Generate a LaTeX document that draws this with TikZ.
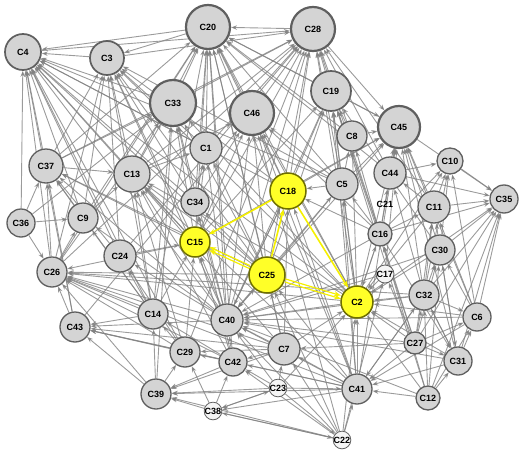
\documentclass[tikz,border=0pt]{standalone}
\usepackage{fontspec}
\setmainfont{Liberation Sans}
\usetikzlibrary{arrows.meta,backgrounds}
\definecolor{ndfill}{RGB}{212,212,212}
\definecolor{ndline}{RGB}{95,95,95}
\definecolor{yfill}{RGB}{255,255,40}
\definecolor{yline}{RGB}{110,110,0}
\definecolor{edgecol}{RGB}{130,130,130}
\definecolor{yedgecol}{RGB}{245,240,0}
\tikzset{
  nd/.style={circle, draw=ndline, fill=ndfill, inner sep=0pt, line width=1.3pt,
    font=\fontsize{9}{9}\selectfont\bfseries, text=black},
  bignd/.style={nd, line width=2.2pt},
  midnd/.style={nd, line width=1.7pt},
  smallnd/.style={nd, fill=white!92!gray, line width=0.8pt},
  ynd/.style={nd, fill=yfill, draw=yline, line width=1.5pt},
  txtnd/.style={inner sep=0pt, font=\fontsize{9}{9}\selectfont\bfseries, text=black},
  edge/.style={draw=edgecol, draw opacity=0.8, line width=0.9pt,
    -{Stealth[length=6pt,width=4.5pt]}},
  yedge/.style={draw=yedgecol, line width=1.6pt, -{Stealth[length=7pt,width=5pt]}}
}
\begin{document}
\begin{tikzpicture}[x=1pt,y=-1pt]
\useasboundingbox (0,0) rectangle (520,450);
% nodes
\node[bignd, minimum size=44pt] (C20) at (208,27) {C20};
\node[bignd, minimum size=44pt] (C28) at (313,29) {C28};
\node[midnd, minimum size=36pt] (C4) at (23,52) {C4};
\node[midnd, minimum size=34pt] (C3) at (107,58) {C3};
\node[bignd, minimum size=46pt] (C33) at (173,103) {C33};
\node[bignd, minimum size=44pt] (C46) at (252,113) {C46};
\node[midnd, minimum size=40pt] (C19) at (331,91) {C19};
\node[bignd, minimum size=42pt] (C45) at (399,127) {C45};
\node[nd, minimum size=30pt] (C8) at (352,136) {C8};
\node[nd, minimum size=32pt] (C1) at (206,148) {C1};
\node[nd, minimum size=26pt] (C10) at (450,161) {C10};
\node[nd, minimum size=34pt] (C37) at (46,166) {C37};
\node[nd, minimum size=36pt] (C13) at (132,174) {C13};
\node[nd, minimum size=32pt] (C44) at (390,173) {C44};
\node[nd, minimum size=32pt] (C5) at (342,184) {C5};
\node[ynd, minimum size=36pt] (C18) at (288,191) {C18};
\node[nd, minimum size=28pt] (C35) at (504,199) {C35};
\node[txtnd] (C21) at (385,204) {C21};
\node[nd, minimum size=28pt] (C34) at (195,202) {C34};
\node[nd, minimum size=32pt] (C11) at (434,207) {C11};
\node[nd, minimum size=30pt] (C9) at (83,218) {C9};
\node[nd, minimum size=28pt] (C36) at (21,223) {C36};
\node[nd, minimum size=24pt] (C16) at (380,234) {C16};
\node[ynd, minimum size=30pt] (C15) at (195,242) {C15};
\node[nd, minimum size=30pt] (C30) at (440,250) {C30};
\node[nd, minimum size=32pt] (C24) at (120,256) {C24};
\node[nd, minimum size=30pt] (C26) at (52,272) {C26};
\node[ynd, minimum size=36pt] (C25) at (267,275) {C25};
\node[smallnd, minimum size=18pt] (C17) at (385,274) {C17};
\node[nd, minimum size=30pt] (C32) at (424,295) {C32};
\node[ynd, minimum size=32pt] (C2) at (357,302) {C2};
\node[nd, minimum size=30pt] (C14) at (153,314) {C14};
\node[nd, minimum size=28pt] (C6) at (477,317) {C6};
\node[nd, minimum size=32pt] (C40) at (227,320) {C40};
\node[nd, minimum size=30pt] (C43) at (75,327) {C43};
\node[nd, minimum size=22pt] (C27) at (415,343) {C27};
\node[nd, minimum size=32pt] (C7) at (284,349) {C7};
\node[nd, minimum size=30pt] (C29) at (185,352) {C29};
\node[nd, minimum size=28pt] (C42) at (233,362) {C42};
\node[nd, minimum size=28pt] (C31) at (458,361) {C31};
\node[smallnd, minimum size=17pt] (C23) at (278,388) {C23};
\node[nd, minimum size=30pt] (C41) at (357,389) {C41};
\node[nd, minimum size=30pt] (C39) at (156,394) {C39};
\node[nd, minimum size=24pt] (C12) at (428,398) {C12};
\node[smallnd, minimum size=16pt] (C38) at (213,411) {C38};
\node[smallnd, minimum size=17pt] (C22) at (342,440) {C22};
% edges
\begin{pgfonlayer}{background}
\foreach \s in {C37,C36,C26,C9,C13,C24,C14,C1,C34,C15,C33,C20,C3,C18,C25,C40,C43,C5,C2,C29}
  \draw[edge] (\s) -- (C4);
\foreach \s in {C20,C13,C37,C9,C1,C34,C15,C18,C25,C26,C24,C40,C14,C5,C2}
  \draw[edge] (\s) -- (C3);
\foreach \s in {C28,C33,C46,C1,C19,C13,C15,C18,C25,C34,C5,C8,C2,C40,C45,C44,C37,C26,C9,C14,C42,C7,C41}
  \draw[edge] (\s) -- (C20);
\foreach \s in {C19,C46,C33,C18,C5,C8,C15,C25,C2,C1,C13,C40,C44,C16,C11,C3,C37,C26,C24,C29,C4}
  \draw[edge] (\s) -- (C28);
\foreach \s in {C13,C15,C25,C40,C37,C26,C34,C2,C14,C36,C39}
  \draw[edge] (\s) -- (C33);
\foreach \s in {C18,C25,C2,C15,C40,C5,C41,C16,C34,C13,C22,C43}
  \draw[edge] (\s) -- (C46);
\foreach \s in {C28,C19,C18,C25,C2,C5,C8,C44,C11,C16,C32,C41,C30,C15,C31,C6,C17}
  \draw[edge] (\s) -- (C45);
\foreach \s in {C18,C25,C5,C8,C2,C15,C40,C16,C41,C12,C27,C30}
  \draw[edge] (\s) -- (C19);
\foreach \s in {C36,C26,C9,C43,C24,C14,C15,C40,C25}
  \draw[edge] (\s) -- (C37);
\foreach \s in {C36,C43,C39,C29,C14,C40,C42,C25,C15,C2,C7,C41,C32}
  \draw[edge] (\s) -- (C26);
\foreach \s in {C14,C29,C40,C25,C15,C2,C42,C7,C37,C9,C41}
  \draw[edge] (\s) -- (C13);
\foreach \s in {C25,C2,C18,C41,C42,C7,C23,C22,C27,C32,C16,C17,C6,C31,C12,C30,C5}
  \draw[edge] (\s) -- (C40);
\foreach \s in {C41,C27,C32,C31,C6,C12,C30,C16,C17,C7,C22,C23,C11}
  \draw[edge] (\s) -- (C2);
\foreach \s in {C22,C27,C12,C31,C6,C32,C23}
  \draw[edge] (\s) -- (C41);
\foreach \s in {C10,C11,C30,C6,C32,C31,C27,C12,C45,C16,C44,C2}
  \draw[edge] (\s) -- (C35);
\foreach \s in {C11,C30,C44,C16,C32,C2,C6}
  \draw[edge] (\s) -- (C10);
\foreach \s in {C38,C23,C22,C42,C41,C7}
  \draw[edge] (\s) -- (C39);
\foreach \s in {C39,C29,C14,C42,C40,C7,C41}
  \draw[edge] (\s) -- (C43);
\foreach \s in {C23,C22,C41}
  \draw[edge] (\s) -- (C38);
\foreach \s in {C38,C23,C41,C22,C7}
  \draw[edge] (\s) -- (C42);
\foreach \s in {C42,C39,C38,C7}
  \draw[edge] (\s) -- (C29);
\foreach \s in {C31,C12,C27,C32}
  \draw[edge] (\s) -- (C6);
\foreach \s in {C32,C27,C12,C30,C16}
  \draw[edge] (\s) -- (C31);
\foreach \s in {C27,C12,C31,C41}
  \draw[edge] (\s) -- (C32);
\foreach \s in {C27,C32,C31,C6,C12}
  \draw[edge] (\s) -- (C30);
\foreach \s in {C30,C16,C32,C27,C6}
  \draw[edge] (\s) -- (C11);
\foreach \s in {C16,C11,C32}
  \draw[edge] (\s) -- (C44);
\foreach \s in {C5,C16,C2}
  \draw[edge] (\s) -- (C8);
\foreach \s in {C16,C25,C2,C41}
  \draw[edge] (\s) -- (C5);
\foreach \s in {C34,C15,C25,C40,C13}
  \draw[edge] (\s) -- (C1);
\foreach \s in {C40,C42,C25}
  \draw[edge] (\s) -- (C34);
\foreach \s in {C40,C29,C14}
  \draw[edge] (\s) -- (C24);
\foreach \s in {C36,C26,C14,C40}
  \draw[edge] (\s) -- (C9);
\foreach \s in {C39,C42,C29}
  \draw[edge] (\s) -- (C14);
\foreach \s in {C40,C42,C29,C14,C24}
  \draw[edge] (\s) -- (C15);
\foreach \s in {C41,C22,C23,C27}
  \draw[edge] (\s) -- (C7);
\foreach \s in {C2,C27,C12}
  \draw[edge] (\s) -- (C16);
\foreach \s in {C22,C27}
  \draw[edge] (\s) -- (C17);
\foreach \s in {C5,C16,C41,C40,C7}
  \draw[edge] (\s) -- (C18);
\foreach \s in {C40,C41,C22,C7}
  \draw[edge] (\s) -- (C25);
\foreach \s in {C38,C23}
  \draw[edge] (\s) -- (C22);
\draw[edge] (C38) -- (C23);
% highlighted edges
\draw[yedge] (C18) -- (C15);
\draw[yedge] (C25) -- (C18);
\draw[yedge] (C18) -- (C2);
\draw[yedge, line width=1.2pt, transform canvas={shift={(0pt,-1.6pt)}}] (C25) -- (C15);
\draw[yedge, line width=1.2pt, transform canvas={shift={(0pt,1.6pt)}}] (C25) -- (C15);
\draw[yedge, line width=1.2pt, transform canvas={shift={(0pt,-1.6pt)}}] (C25) -- (C2);
\draw[yedge, line width=1.2pt, transform canvas={shift={(0pt,1.6pt)}}] (C25) -- (C2);
\end{pgfonlayer}
\end{tikzpicture}
\end{document}
